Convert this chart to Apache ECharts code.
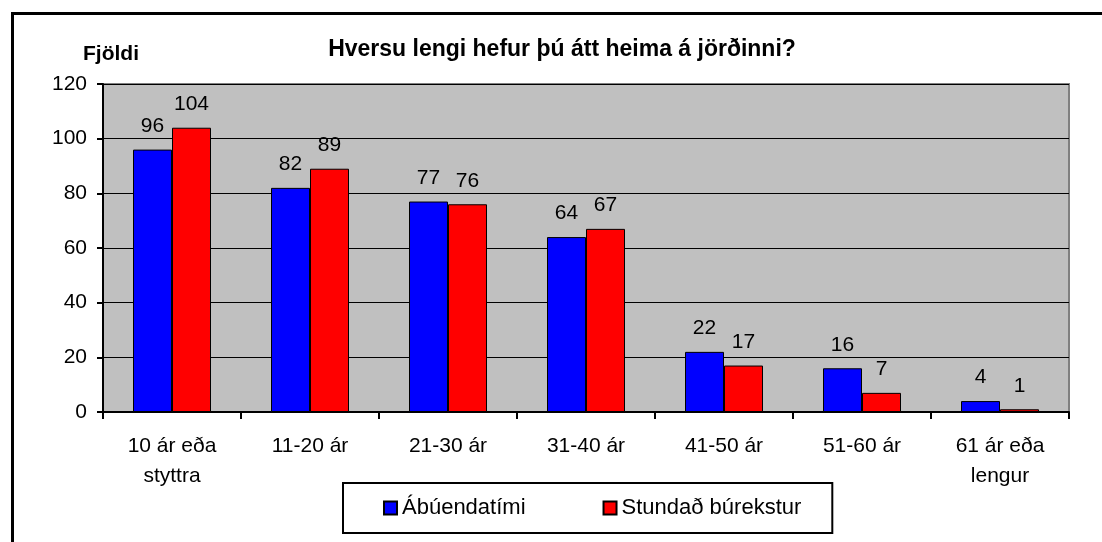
<!DOCTYPE html>
<html>
<head>
<meta charset="utf-8">
<script src="https://cdn.jsdelivr.net/npm/echarts@6/dist/echarts.min.js"></script>
<style>
html,body{margin:0;padding:0;background:#fff;}
#chart{width:1102px;height:542px;}
</style>
</head>
<body>
<div id="chart"></div>
<script>
var categories = ['10 ár eða\nstyttra', '11-20 ár', '21-30 ár', '31-40 ár', '41-50 ár', '51-60 ár', '61 ár eða\nlengur'];
var abuendatimi = [96, 82, 77, 64, 22, 16, 4];
var burekstur = [104, 89, 76, 67, 17, 7, 1];
var seriesNames = ['Ábúendatími', 'Stundað búrekstur'];
var yTicks = {min: 0, max: 120, step: 20};

var font = 'Liberation Sans, Arial, sans-serif';
var myChart = echarts.init(document.getElementById('chart'));

// label style shared by both series
var barLabel = {show: true, position: 'top', distance: 13, color: '#000', fontSize: 21, fontFamily: font};

myChart.setOption({
    animation: false,
    backgroundColor: '#fff',
    title: {
        text: 'Hversu lengi hefur þú átt heima á jörðinni?',
        left: 557, textAlign: 'center', top: 33,
        textStyle: {fontFamily: font, fontSize: 23, fontWeight: 'bold', color: '#000'}
    },
    graphic: [
        {type: 'rect', shape: {x: 12.5, y: 13.5, width: 1200, height: 700}, style: {fill: 'none', stroke: '#000', lineWidth: 3}, z: 100},
        {type: 'text', left: 83, top: 44, style: {text: 'Fjöldi', font: 'bold 21px ' + font, fill: '#000'}}
    ],
    legend: {
        data: seriesNames,
        left: 343, top: 483,
        padding: [14, 31, 14, 40],
        itemGap: 77,
        itemWidth: 13, itemHeight: 13,
        icon: 'rect',
        borderColor: '#000', borderWidth: 2,
        textStyle: {fontFamily: font, fontSize: 22, color: '#000'}
    },
    grid: {
        left: 103, top: 84, right: 33, bottom: 130,
        show: true, backgroundColor: '#c0c0c0', borderColor: '#808080', borderWidth: 2
    },
    xAxis: {
        type: 'category',
        data: categories,
        axisLine: {lineStyle: {color: '#000', width: 2}},
        axisTick: {show: true, length: 7, lineStyle: {color: '#000', width: 2}},
        axisLabel: {color: '#000', fontFamily: font, fontSize: 21, margin: 19, lineHeight: 30}
    },
    yAxis: {
        type: 'value',
        min: yTicks.min, max: yTicks.max, interval: yTicks.step,
        axisLine: {show: true, lineStyle: {color: '#000', width: 2}},
        axisTick: {show: true, length: 6, lineStyle: {color: '#000', width: 2}},
        axisLabel: {color: '#000', fontFamily: font, fontSize: 21, margin: 16},
        splitLine: {lineStyle: {color: '#000', width: 1}}
    },
    series: [
        {
            name: seriesNames[0], type: 'bar', data: abuendatimi,
            barWidth: 39, barGap: '0%',
            itemStyle: {color: '#0000ff', borderColor: '#000', borderWidth: 1},
            label: barLabel
        },
        {
            name: seriesNames[1], type: 'bar', data: burekstur,
            barWidth: 39,
            itemStyle: {color: '#ff0000', borderColor: '#000', borderWidth: 1},
            label: barLabel
        }
    ]
});
</script>
</body>
</html>
